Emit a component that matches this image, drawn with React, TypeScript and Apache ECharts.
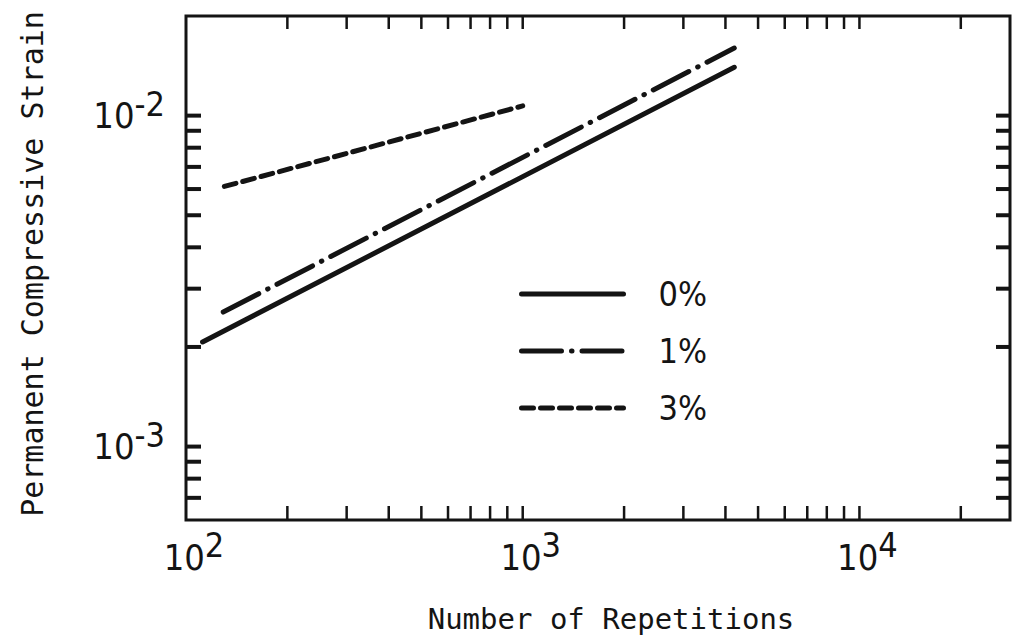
import React, { useEffect, useRef } from 'react';
import * as echarts from 'echarts';

// ---- data ----
const seriesNames = ['0%', '1%', '3%'];
const repetitions0 = [112, 4250];
const strain0 = [0.00207, 0.014];
const repetitions1 = [129, 4250];
const strain1 = [0.00255, 0.016];
const repetitions3 = [130, 1000];
const strain3 = [0.00611, 0.0107];

const X_MIN = 100;
const X_MAX = 28000;
const Y_MIN = 0.0006;
const Y_MAX = 0.02;

const xTickValues = [
  200, 300, 400, 500, 600, 700, 800, 900,
  1000, 2000, 3000, 4000, 5000, 6000, 7000, 8000, 9000,
  10000, 20000,
];
const yTickValues = [
  0.0007, 0.0008, 0.0009,
  0.001, 0.002, 0.003, 0.004, 0.005, 0.006, 0.007, 0.008, 0.009,
  0.01,
];

const INK = '#141414';
const NARROW = "'Liberation Sans Narrow', 'Arial Narrow', 'DejaVu Sans Condensed', sans-serif";
const MONO = "'DejaVu Sans Mono', 'Liberation Mono', monospace";

const zip = (xs: number[], ys: number[]) => xs.map((x, i) => [x, ys[i]]);

const powLabel = (v: number) => {
  const l = Math.log10(v);
  const n = Math.round(l);
  if (Math.abs(l - n) > 1e-6) return '';
  return '{b|10}{s|' + n + '}';
};

const labelRich = {
  b: { fontFamily: NARROW, fontSize: 36, lineHeight: 58, color: INK },
  s: { fontFamily: NARROW, fontSize: 34, lineHeight: 34, color: INK, verticalAlign: 'top' },
};

const tickSeries = (values: number[], orient: 'x' | 'y') => ({
  type: 'custom',
  silent: true,
  z: 5,
  clip: false,
  data: values.map((v) => (orient === 'x' ? [v, Y_MIN] : [X_MIN, v])),
  renderItem: (_params: any, api: any) => {
    if (orient === 'x') {
      const v = api.value(0);
      const b = api.coord([v, Y_MIN]);
      const t = api.coord([v, Y_MAX]);
      return {
        type: 'group',
        children: [
          { type: 'line', shape: { x1: b[0], y1: b[1], x2: b[0], y2: b[1] - 14 }, style: { stroke: INK, lineWidth: 2.5 } },
          { type: 'line', shape: { x1: t[0], y1: t[1], x2: t[0], y2: t[1] + 13 }, style: { stroke: INK, lineWidth: 2.5 } },
        ],
      };
    }
    const v = api.value(1);
    const l = api.coord([X_MIN, v]);
    const r = api.coord([X_MAX, v]);
    return {
      type: 'group',
      children: [
        { type: 'line', shape: { x1: l[0], y1: l[1], x2: l[0] + 15, y2: l[1] }, style: { stroke: INK, lineWidth: 4 } },
        { type: 'line', shape: { x1: r[0], y1: r[1], x2: r[0] - 14, y2: r[1] }, style: { stroke: INK, lineWidth: 4 } },
      ],
    };
  },
});

export default function App() {
  const ref = useRef<HTMLDivElement>(null);

  useEffect(() => {
    if (!ref.current) return;
    const chart = echarts.init(ref.current, undefined, { renderer: 'svg' });
    const option: any = {
      animation: false,
      backgroundColor: '#ffffff',
      grid: {
        left: 186,
        right: 2,
        top: 16,
        bottom: 120,
        show: true,
        borderColor: INK,
        borderWidth: 3,
        backgroundColor: 'transparent',
      },
      legend: {
        orient: 'vertical',
        left: 514,
        top: 272,
        itemWidth: 102,
        itemHeight: 34,
        itemGap: 23,
        data: seriesNames,
        selectedMode: false,
        textStyle: { fontFamily: NARROW, fontSize: 34, lineHeight: 34, color: INK, padding: [0, 0, 0, 30] },
        lineStyle: { width: 5, cap: 'round' },
        itemStyle: { opacity: 0 },
      },
      xAxis: {
        type: 'log',
        logBase: 10,
        min: X_MIN,
        max: X_MAX,
        axisLine: { show: false },
        axisTick: { show: false },
        splitLine: { show: false },
        axisLabel: {
          formatter: powLabel,
          rich: labelRich,
          margin: 8,
          padding: [0, 0, 0, 16],
          showMaxLabel: false,
        },
        name: 'Number of Repetitions',
        nameLocation: 'middle',
        nameGap: 84,
        nameTextStyle: { fontFamily: MONO, fontSize: 29, color: INK, padding: [0, 0, 0, 26] },
      },
      yAxis: {
        type: 'log',
        logBase: 10,
        min: Y_MIN,
        max: Y_MAX,
        axisLine: { show: false },
        axisTick: { show: false },
        splitLine: { show: false },
        axisLabel: {
          formatter: powLabel,
          rich: labelRich,
          margin: 21,
          showMaxLabel: false,
          showMinLabel: false,
        },
        name: 'Permanent Compressive Strain',
        nameLocation: 'middle',
        nameRotate: 90,
        nameGap: 139,
        nameTextStyle: { fontFamily: MONO, fontSize: 30, color: INK, padding: [0, 0, 0, 8] },
      },
      series: [
        {
          name: seriesNames[0],
          type: 'line',
          data: zip(repetitions0, strain0),
          symbol: 'none',
          itemStyle: { color: INK },
          lineStyle: { color: INK, width: 5, type: 'solid', cap: 'round' },
        },
        {
          name: seriesNames[1],
          type: 'line',
          data: zip(repetitions1, strain1),
          symbol: 'none',
          itemStyle: { color: INK },
          lineStyle: { color: INK, width: 5, type: [40, 10, 0.5, 10], cap: 'round' },
        },
        {
          name: seriesNames[2],
          type: 'line',
          data: zip(repetitions3, strain3),
          symbol: 'none',
          itemStyle: { color: INK },
          lineStyle: { color: INK, width: 5, type: [12, 7], cap: 'round' },
        },
        tickSeries(xTickValues, 'x'),
        tickSeries(yTickValues, 'y'),
      ],
    };
    chart.setOption(option);
    return () => chart.dispose();
  }, []);

  return (
    <div
      ref={ref}
      style={{ position: 'fixed', left: 0, top: 0, width: 1012, height: 640, background: '#fff' }}
    />
  );
}
